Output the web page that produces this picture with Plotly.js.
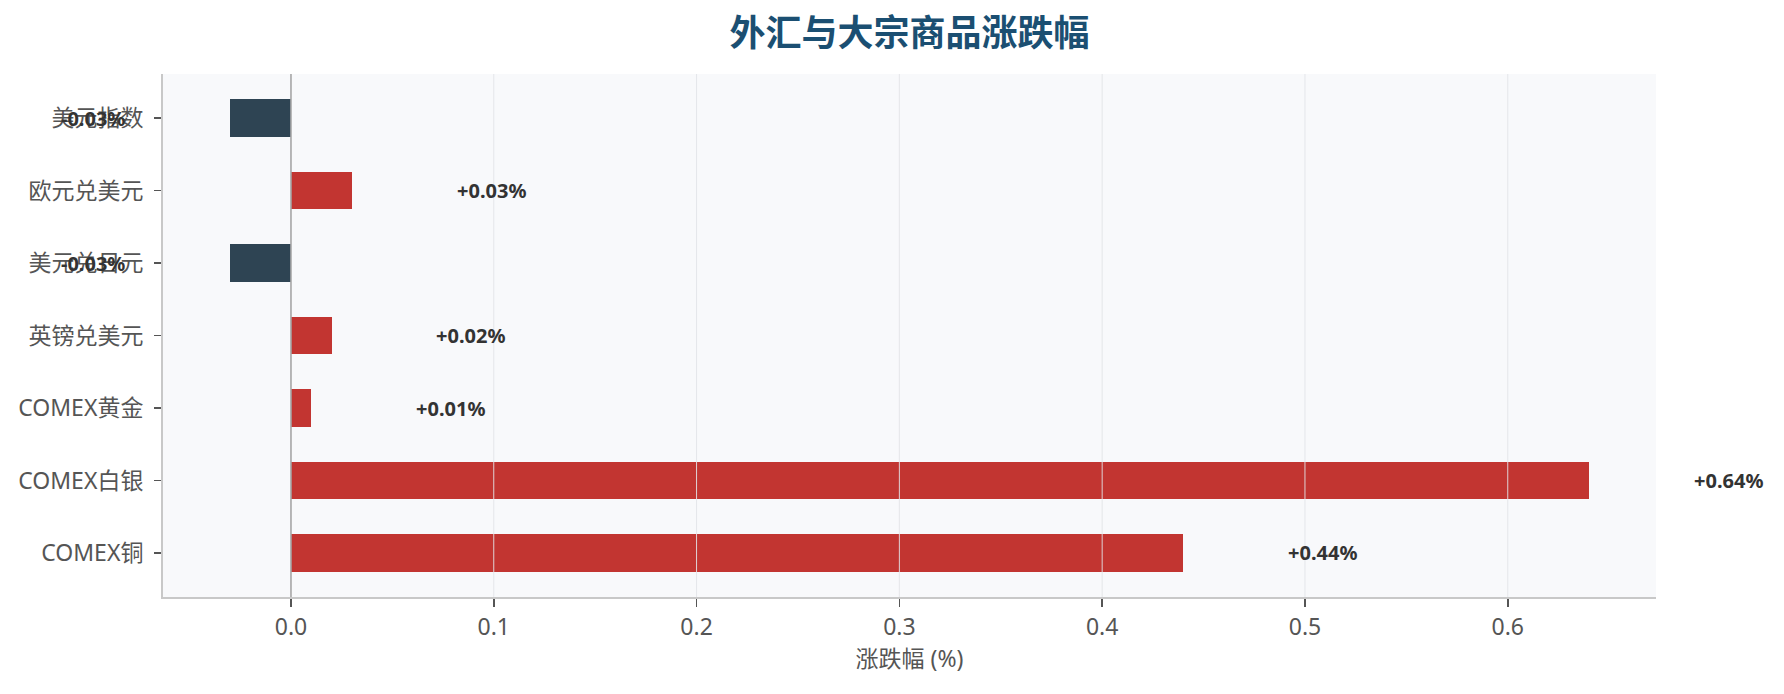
<!DOCTYPE html>
<html>
<head>
<meta charset="utf-8">
<script src="https://cdn.plot.ly/plotly-3.0.1.min.js"></script>
<style>
  html, body { margin: 0; padding: 0; background: #ffffff; }
  #chart { width: 1784px; height: 694px; }
</style>
</head>
<body>
<div id="chart"></div>
<script>
// ---- data ----
const categories = ['美元指数', '欧元兑美元', '美元兑日元', '英镑兑美元', 'COMEX黄金', 'COMEX白银', 'COMEX铜'];
const values = [-0.03, 0.03, -0.03, 0.02, 0.01, 0.64, 0.44];
const valueLabels = ['-0.03%', '+0.03%', '-0.03%', '+0.02%', '+0.01%', '+0.64%', '+0.44%'];
const xTickVals = [0, 0.1, 0.2, 0.3, 0.4, 0.5, 0.6];
const xTickText = ['0.0', '0.1', '0.2', '0.3', '0.4', '0.5', '0.6'];
const titleText = '外汇与大宗商品涨跌幅';
const xTitleText = '涨跌幅 (%)';

// ---- style ----
const UP = '#c23531';
const DOWN = '#2e4453';
const FONT = "'Noto Sans', 'Noto Sans CJK SC', sans-serif";
const W = 1784, H = 694;
const MARGIN = { l: 163, r: 128, t: 74, b: 97, pad: 0 };
const X_RANGE = [-0.0631, 0.6731];
const LABEL_OFFSET = 0.0512;              // in data units
const pxPerUnit = (W - MARGIN.l - MARGIN.r) / (X_RANGE[1] - X_RANGE[0]);
const labelShift = LABEL_OFFSET * pxPerUnit;

const colors = values.map(v => v >= 0 ? UP : DOWN);

const barTrace = {
  type: 'bar',
  orientation: 'h',
  y: categories,
  x: values,
  width: 0.52,
  marker: { color: colors, line: { width: 0 } },
  hoverinfo: 'skip'
};

const annotations = values.map((v, i) => ({
  xref: 'x', yref: 'y',
  x: v,
  y: categories[i],
  xshift: v >= 0 ? labelShift : -labelShift,
  text: '<b>' + valueLabels[i] + '</b>',
  showarrow: false,
  xanchor: v >= 0 ? 'left' : 'right',
  yanchor: 'middle',
  borderpad: 0,
  font: { family: FONT, size: 20, color: '#333333' }
}));

const shapes = xTickVals.filter(t => t !== 0).map(t => ({
  type: 'line', xref: 'x', yref: 'paper',
  x0: t, x1: t, y0: 0, y1: 1,
  layer: 'above',
  line: { color: 'rgba(226,228,232,0.9)', width: 1 }
}));
shapes.push({
  type: 'line', xref: 'x', yref: 'paper',
  x0: 0, x1: 0, y0: 0, y1: 1,
  layer: 'above',
  line: { color: '#a6a6a6', width: 1.6 }
});

const layout = {
  width: W,
  height: H,
  paper_bgcolor: '#ffffff',
  plot_bgcolor: '#f8f9fb',
  margin: MARGIN,
  showlegend: false,
  title: {
    text: '<b>' + titleText + '</b>',
    font: { family: "'Noto Sans CJK SC', sans-serif", size: 36, color: '#1b4f72' },
    xref: 'paper', x: 0.5, xanchor: 'center',
    yref: 'container', y: 1 - 33 / H, yanchor: 'middle'
  },
  xaxis: {
    range: X_RANGE,
    autorange: false,
    tickvals: xTickVals,
    ticktext: xTickText,
    showgrid: false,
    zeroline: false,
    showline: true,
    linecolor: '#c8c8c8',
    linewidth: 2,
    ticks: 'outside',
    ticklen: 8,
    tickwidth: 1.5,
    tickcolor: '#555555',
    tickfont: { family: FONT, size: 23, color: '#555555' },
    title: {
      text: xTitleText,
      font: { family: FONT, size: 23, color: '#555555' },
      standoff: 8
    }
  },
  yaxis: {
    type: 'category',
    categoryorder: 'array',
    categoryarray: categories,
    range: [6.607, -0.607],
    autorange: false,
    showgrid: false,
    zeroline: false,
    showline: true,
    linecolor: '#c8c8c8',
    linewidth: 2,
    ticks: 'outside',
    ticklen: 7,
    tickwidth: 1.5,
    tickcolor: '#555555',
    ticklabelstandoff: 6,
    tickfont: { family: FONT, size: 23, color: '#555555' }
  },
  annotations: annotations,
  shapes: shapes,
  bargap: 0
};

Plotly.newPlot('chart', [barTrace], layout, { displayModeBar: false, staticPlot: true });
</script>
</body>
</html>
